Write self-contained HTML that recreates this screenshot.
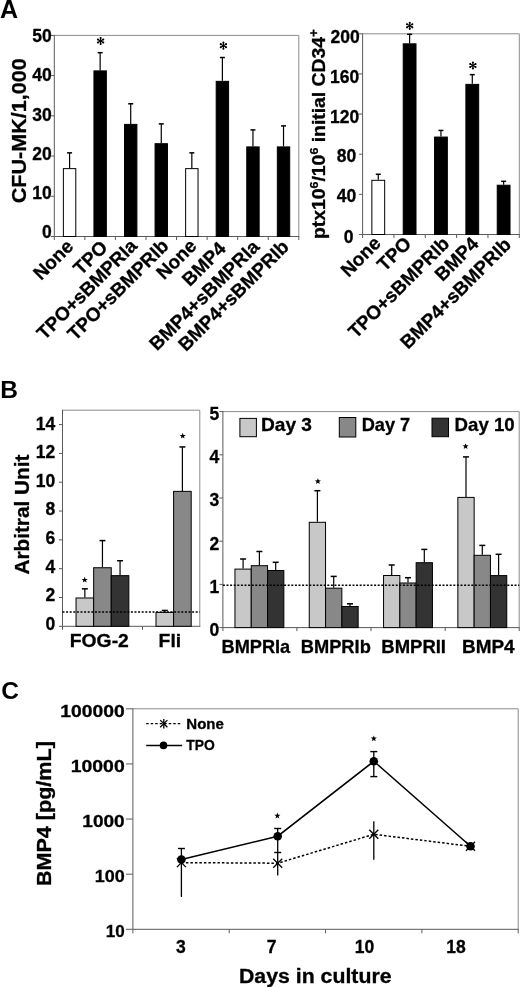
<!DOCTYPE html>
<html><head><meta charset="utf-8"><style>
html,body{margin:0;padding:0;background:#fff;width:520px;height:988px;overflow:hidden}
svg{display:block;filter:blur(0.4px)}
text{stroke:#000;stroke-width:0.3px}
</style></head><body>
<svg width="520" height="988" viewBox="0 0 520 988" font-family="Liberation Sans, sans-serif" font-weight="bold" fill="#000">
<text x="-0.1" y="17.8" font-size="25" text-anchor="start" style="stroke-width:0">A</text>
<line x1="54.3" y1="35.4" x2="298.8" y2="35.4" stroke="#8c8c8c" stroke-width="1"/>
<line x1="298.8" y1="35.4" x2="298.8" y2="236.5" stroke="#8c8c8c" stroke-width="1"/>
<line x1="54.3" y1="34.9" x2="54.3" y2="236.5" stroke="#5a5a5a" stroke-width="1"/>
<line x1="54.3" y1="236.5" x2="299.3" y2="236.5" stroke="#5a5a5a" stroke-width="1"/>
<line x1="50.8" y1="236.5" x2="54.3" y2="236.5" stroke="#5a5a5a" stroke-width="1"/>
<text x="51.8" y="237.7" font-size="17.5" text-anchor="end">0</text>
<line x1="50.8" y1="196.28" x2="54.3" y2="196.28" stroke="#5a5a5a" stroke-width="1"/>
<text x="51.8" y="198.9" font-size="17.5" text-anchor="end">10</text>
<line x1="50.8" y1="156.06" x2="54.3" y2="156.06" stroke="#5a5a5a" stroke-width="1"/>
<text x="51.8" y="159.5" font-size="17.5" text-anchor="end">20</text>
<line x1="50.8" y1="115.83999999999999" x2="54.3" y2="115.83999999999999" stroke="#5a5a5a" stroke-width="1"/>
<text x="51.8" y="121.2" font-size="17.5" text-anchor="end">30</text>
<line x1="50.8" y1="75.62" x2="54.3" y2="75.62" stroke="#5a5a5a" stroke-width="1"/>
<text x="51.8" y="81.0" font-size="17.5" text-anchor="end">40</text>
<line x1="50.8" y1="35.39999999999998" x2="54.3" y2="35.39999999999998" stroke="#5a5a5a" stroke-width="1"/>
<text x="51.8" y="41.8" font-size="17.5" text-anchor="end">50</text>
<line x1="54.3" y1="236.5" x2="54.3" y2="240.0" stroke="#5a5a5a" stroke-width="1"/>
<line x1="84.8625" y1="236.5" x2="84.8625" y2="240.0" stroke="#5a5a5a" stroke-width="1"/>
<line x1="115.425" y1="236.5" x2="115.425" y2="240.0" stroke="#5a5a5a" stroke-width="1"/>
<line x1="145.9875" y1="236.5" x2="145.9875" y2="240.0" stroke="#5a5a5a" stroke-width="1"/>
<line x1="176.55" y1="236.5" x2="176.55" y2="240.0" stroke="#5a5a5a" stroke-width="1"/>
<line x1="207.1125" y1="236.5" x2="207.1125" y2="240.0" stroke="#5a5a5a" stroke-width="1"/>
<line x1="237.675" y1="236.5" x2="237.675" y2="240.0" stroke="#5a5a5a" stroke-width="1"/>
<line x1="268.2375" y1="236.5" x2="268.2375" y2="240.0" stroke="#5a5a5a" stroke-width="1"/>
<line x1="298.8" y1="236.5" x2="298.8" y2="240.0" stroke="#5a5a5a" stroke-width="1"/>
<line x1="69.58125" y1="168.12599999999998" x2="69.58125" y2="152.8424" stroke="#000" stroke-width="1.2"/>
<line x1="67.08125" y1="152.8424" x2="72.08125" y2="152.8424" stroke="#000" stroke-width="1.5"/>
<rect x="63.381249999999994" y="168.62599999999998" width="12.4" height="67.87400000000001" fill="#fff" stroke="#000" stroke-width="1"/>
<line x1="100.14375" y1="70.3914" x2="100.14375" y2="52.69459999999998" stroke="#000" stroke-width="1.2"/>
<line x1="97.64375" y1="52.69459999999998" x2="102.64375" y2="52.69459999999998" stroke="#000" stroke-width="1.5"/>
<rect x="93.94375" y="70.8914" width="12.4" height="165.6086" fill="#000" stroke="#000" stroke-width="1"/>
<line x1="130.70625" y1="123.88399999999999" x2="130.70625" y2="103.774" stroke="#000" stroke-width="1.2"/>
<line x1="128.20625" y1="103.774" x2="133.20625" y2="103.774" stroke="#000" stroke-width="1.5"/>
<rect x="124.50625000000001" y="124.38399999999999" width="12.4" height="112.11600000000001" fill="#000" stroke="#000" stroke-width="1"/>
<line x1="161.26875" y1="143.18959999999998" x2="161.26875" y2="123.88399999999999" stroke="#000" stroke-width="1.2"/>
<line x1="158.76875" y1="123.88399999999999" x2="163.76875" y2="123.88399999999999" stroke="#000" stroke-width="1.5"/>
<rect x="155.06875000000002" y="143.68959999999998" width="12.4" height="92.8104" fill="#000" stroke="#000" stroke-width="1"/>
<line x1="191.83125" y1="168.12599999999998" x2="191.83125" y2="152.8424" stroke="#000" stroke-width="1.2"/>
<line x1="189.33125" y1="152.8424" x2="194.33125" y2="152.8424" stroke="#000" stroke-width="1.5"/>
<rect x="185.63125000000002" y="168.62599999999998" width="12.4" height="67.87400000000001" fill="#fff" stroke="#000" stroke-width="1"/>
<line x1="222.39375" y1="80.84859999999998" x2="222.39375" y2="57.52099999999999" stroke="#000" stroke-width="1.2"/>
<line x1="219.89375" y1="57.52099999999999" x2="224.89375" y2="57.52099999999999" stroke="#000" stroke-width="1.5"/>
<rect x="216.19375000000002" y="81.34859999999998" width="12.4" height="155.15140000000002" fill="#000" stroke="#000" stroke-width="1"/>
<line x1="252.95625" y1="146.4072" x2="252.95625" y2="129.91699999999997" stroke="#000" stroke-width="1.2"/>
<line x1="250.45625" y1="129.91699999999997" x2="255.45625" y2="129.91699999999997" stroke="#000" stroke-width="1.5"/>
<rect x="246.75625000000002" y="146.9072" width="12.4" height="89.5928" fill="#000" stroke="#000" stroke-width="1"/>
<line x1="283.51875" y1="146.4072" x2="283.51875" y2="125.895" stroke="#000" stroke-width="1.2"/>
<line x1="281.01875" y1="125.895" x2="286.01875" y2="125.895" stroke="#000" stroke-width="1.5"/>
<rect x="277.31875" y="146.9072" width="12.4" height="89.5928" fill="#000" stroke="#000" stroke-width="1"/>
<line x1="100.60" y1="37.40" x2="100.60" y2="44.60" stroke="#000" stroke-width="1.2"/>
<circle cx="100.60" cy="37.94" r="1.05" fill="#000"/>
<circle cx="100.60" cy="44.06" r="1.05" fill="#000"/>
<line x1="97.48" y1="39.20" x2="103.72" y2="42.80" stroke="#000" stroke-width="1.2"/>
<circle cx="97.95" cy="39.47" r="1.05" fill="#000"/>
<circle cx="103.25" cy="42.53" r="1.05" fill="#000"/>
<line x1="103.72" y1="39.20" x2="97.48" y2="42.80" stroke="#000" stroke-width="1.2"/>
<circle cx="103.25" cy="39.47" r="1.05" fill="#000"/>
<circle cx="97.95" cy="42.53" r="1.05" fill="#000"/>
<line x1="223.40" y1="42.10" x2="223.40" y2="49.30" stroke="#000" stroke-width="1.2"/>
<circle cx="223.40" cy="42.64" r="1.05" fill="#000"/>
<circle cx="223.40" cy="48.76" r="1.05" fill="#000"/>
<line x1="220.28" y1="43.90" x2="226.52" y2="47.50" stroke="#000" stroke-width="1.2"/>
<circle cx="220.75" cy="44.17" r="1.05" fill="#000"/>
<circle cx="226.05" cy="47.23" r="1.05" fill="#000"/>
<line x1="226.52" y1="43.90" x2="220.28" y2="47.50" stroke="#000" stroke-width="1.2"/>
<circle cx="226.05" cy="44.17" r="1.05" fill="#000"/>
<circle cx="220.75" cy="47.23" r="1.05" fill="#000"/>
<text x="25.9" y="130.8" font-size="20.5" text-anchor="middle" textLength="145" lengthAdjust="spacingAndGlyphs" transform="rotate(-90 25.9 130.8)">CFU-MK/1,000</text>
<text font-size="19" text-anchor="end" transform="translate(74.48 247.50) scale(1.0 1) rotate(-45)">None</text>
<text font-size="19" text-anchor="end" transform="translate(108.64 248.50) scale(1.0 1) rotate(-45)">TPO</text>
<text font-size="19" text-anchor="end" transform="translate(138.21 247.00) scale(1.0 1) rotate(-45)">TPO+sBMPRIa</text>
<text font-size="19" text-anchor="end" transform="translate(169.77 247.00) scale(1.0 1) rotate(-45)">TPO+sBMPRIb</text>
<text font-size="19" text-anchor="end" transform="translate(197.63 247.00) scale(1.0 1) rotate(-45)">None</text>
<text font-size="19" text-anchor="end" transform="translate(227.09 249.80) scale(1.0 1) rotate(-45)">BMP4</text>
<text font-size="19" text-anchor="end" transform="translate(260.46 248.00) scale(1.0 1) rotate(-45)">BMP4+sBMPRIa</text>
<text font-size="19" text-anchor="end" transform="translate(290.02 248.00) scale(1.0 1) rotate(-45)">BMP4+sBMPRIb</text>
<line x1="362.6" y1="33.8" x2="519.3" y2="33.8" stroke="#8c8c8c" stroke-width="1"/>
<line x1="519.3" y1="33.8" x2="519.3" y2="234.5" stroke="#8c8c8c" stroke-width="1"/>
<line x1="362.6" y1="33.3" x2="362.6" y2="234.5" stroke="#5a5a5a" stroke-width="1"/>
<line x1="362.6" y1="234.5" x2="519.8" y2="234.5" stroke="#5a5a5a" stroke-width="1"/>
<line x1="359.1" y1="234.5" x2="362.6" y2="234.5" stroke="#5a5a5a" stroke-width="1"/>
<text x="353.5" y="242.5" font-size="17.5" text-anchor="end">0</text>
<line x1="359.1" y1="194.36" x2="362.6" y2="194.36" stroke="#5a5a5a" stroke-width="1"/>
<text x="356.3" y="202.2" font-size="17.5" text-anchor="end">40</text>
<line x1="359.1" y1="154.22000000000003" x2="362.6" y2="154.22000000000003" stroke="#5a5a5a" stroke-width="1"/>
<text x="356.3" y="162.4" font-size="17.5" text-anchor="end">80</text>
<line x1="359.1" y1="114.08000000000001" x2="362.6" y2="114.08000000000001" stroke="#5a5a5a" stroke-width="1"/>
<text x="359.2" y="122.6" font-size="17.5" text-anchor="end">120</text>
<line x1="359.1" y1="73.94000000000003" x2="362.6" y2="73.94000000000003" stroke="#5a5a5a" stroke-width="1"/>
<text x="359.2" y="82.5" font-size="17.5" text-anchor="end">160</text>
<line x1="359.1" y1="33.80000000000004" x2="362.6" y2="33.80000000000004" stroke="#5a5a5a" stroke-width="1"/>
<text x="359.7" y="42.7" font-size="17.5" text-anchor="end">200</text>
<line x1="362.6" y1="234.5" x2="362.6" y2="238.0" stroke="#5a5a5a" stroke-width="1"/>
<line x1="393.94" y1="234.5" x2="393.94" y2="238.0" stroke="#5a5a5a" stroke-width="1"/>
<line x1="425.28" y1="234.5" x2="425.28" y2="238.0" stroke="#5a5a5a" stroke-width="1"/>
<line x1="456.62" y1="234.5" x2="456.62" y2="238.0" stroke="#5a5a5a" stroke-width="1"/>
<line x1="487.96" y1="234.5" x2="487.96" y2="238.0" stroke="#5a5a5a" stroke-width="1"/>
<line x1="519.3" y1="234.5" x2="519.3" y2="238.0" stroke="#5a5a5a" stroke-width="1"/>
<line x1="378.27000000000004" y1="179.80925000000002" x2="378.27000000000004" y2="174.29000000000002" stroke="#000" stroke-width="1.2"/>
<line x1="375.77000000000004" y1="174.29000000000002" x2="380.77000000000004" y2="174.29000000000002" stroke="#000" stroke-width="1.5"/>
<rect x="371.87000000000006" y="180.30925000000002" width="12.8" height="54.190749999999994" fill="#fff" stroke="#000" stroke-width="1"/>
<line x1="409.61" y1="43.33325000000002" x2="409.61" y2="34.30175000000003" stroke="#000" stroke-width="1.2"/>
<line x1="407.11" y1="34.30175000000003" x2="412.11" y2="34.30175000000003" stroke="#000" stroke-width="1.5"/>
<rect x="403.21000000000004" y="43.83325000000002" width="12.8" height="190.66674999999998" fill="#000" stroke="#000" stroke-width="1"/>
<line x1="440.95" y1="136.5584" x2="440.95" y2="130.43705" stroke="#000" stroke-width="1.2"/>
<line x1="438.45" y1="130.43705" x2="443.45" y2="130.43705" stroke="#000" stroke-width="1.5"/>
<rect x="434.55" y="137.0584" width="12.8" height="97.44159999999998" fill="#000" stroke="#000" stroke-width="1"/>
<line x1="472.28999999999996" y1="83.87465000000003" x2="472.28999999999996" y2="74.64245000000003" stroke="#000" stroke-width="1.2"/>
<line x1="469.78999999999996" y1="74.64245000000003" x2="474.78999999999996" y2="74.64245000000003" stroke="#000" stroke-width="1.5"/>
<rect x="465.89" y="84.37465000000003" width="12.8" height="150.12534999999997" fill="#000" stroke="#000" stroke-width="1"/>
<line x1="503.63" y1="184.7264" x2="503.63" y2="181.3145" stroke="#000" stroke-width="1.2"/>
<line x1="501.13" y1="181.3145" x2="506.13" y2="181.3145" stroke="#000" stroke-width="1.5"/>
<rect x="497.23" y="185.2264" width="12.8" height="49.273599999999995" fill="#000" stroke="#000" stroke-width="1"/>
<line x1="409.70" y1="22.20" x2="409.70" y2="29.40" stroke="#000" stroke-width="1.2"/>
<circle cx="409.70" cy="22.74" r="1.05" fill="#000"/>
<circle cx="409.70" cy="28.86" r="1.05" fill="#000"/>
<line x1="406.58" y1="24.00" x2="412.82" y2="27.60" stroke="#000" stroke-width="1.2"/>
<circle cx="407.05" cy="24.27" r="1.05" fill="#000"/>
<circle cx="412.35" cy="27.33" r="1.05" fill="#000"/>
<line x1="412.82" y1="24.00" x2="406.58" y2="27.60" stroke="#000" stroke-width="1.2"/>
<circle cx="412.35" cy="24.27" r="1.05" fill="#000"/>
<circle cx="407.05" cy="27.33" r="1.05" fill="#000"/>
<line x1="472.90" y1="61.90" x2="472.90" y2="69.10" stroke="#000" stroke-width="1.2"/>
<circle cx="472.90" cy="62.44" r="1.05" fill="#000"/>
<circle cx="472.90" cy="68.56" r="1.05" fill="#000"/>
<line x1="469.78" y1="63.70" x2="476.02" y2="67.30" stroke="#000" stroke-width="1.2"/>
<circle cx="470.25" cy="63.97" r="1.05" fill="#000"/>
<circle cx="475.55" cy="67.03" r="1.05" fill="#000"/>
<line x1="476.02" y1="63.70" x2="469.78" y2="67.30" stroke="#000" stroke-width="1.2"/>
<circle cx="475.55" cy="63.97" r="1.05" fill="#000"/>
<circle cx="470.25" cy="67.03" r="1.05" fill="#000"/>
<text x="325" y="134" font-size="18" text-anchor="middle" transform="rotate(-90 325 134)" textLength="210" lengthAdjust="spacingAndGlyphs">ptx10<tspan font-size="11.5" dy="-7.5">6</tspan><tspan dy="7.5">/10</tspan><tspan font-size="11.5" dy="-7.5">6</tspan><tspan dy="7.5"> initial CD34</tspan><tspan font-size="12.5" dy="-7.5">+</tspan></text>
<text font-size="19" text-anchor="end" transform="translate(381.97 244.30) scale(1.0 1) rotate(-45)">None</text>
<text font-size="19" text-anchor="end" transform="translate(412.41 244.70) scale(1.0 1) rotate(-45)">TPO</text>
<text font-size="19" text-anchor="end" transform="translate(450.35 244.90) scale(1.0 1) rotate(-45)">TPO+sBMPRIb</text>
<text font-size="19" text-anchor="end" transform="translate(479.79 244.90) scale(1.0 1) rotate(-45)">BMP4</text>
<text font-size="19" text-anchor="end" transform="translate(512.13 245.90) scale(1.0 1) rotate(-45)">BMP4+sBMPRIb</text>
<text x="0.3" y="397.5" font-size="24.5" text-anchor="start" style="stroke-width:0">B</text>
<line x1="62.5" y1="410.2" x2="199.8" y2="410.2" stroke="#8c8c8c" stroke-width="1"/>
<line x1="199.8" y1="410.2" x2="199.8" y2="626.3" stroke="#8c8c8c" stroke-width="1"/>
<line x1="62.5" y1="409.7" x2="62.5" y2="626.3" stroke="#5a5a5a" stroke-width="1"/>
<line x1="62.5" y1="626.3" x2="200.3" y2="626.3" stroke="#5a5a5a" stroke-width="1"/>
<line x1="59.0" y1="626.3" x2="62.5" y2="626.3" stroke="#5a5a5a" stroke-width="1"/>
<text x="55.3" y="629.8" font-size="17.5" text-anchor="end">0</text>
<line x1="59.0" y1="597.4866666666667" x2="62.5" y2="597.4866666666667" stroke="#5a5a5a" stroke-width="1"/>
<text x="55.3" y="601.1999999999999" font-size="17.5" text-anchor="end">2</text>
<line x1="59.0" y1="568.6733333333333" x2="62.5" y2="568.6733333333333" stroke="#5a5a5a" stroke-width="1"/>
<text x="55.3" y="572.5999999999999" font-size="17.5" text-anchor="end">4</text>
<line x1="59.0" y1="539.86" x2="62.5" y2="539.86" stroke="#5a5a5a" stroke-width="1"/>
<text x="55.3" y="544.0" font-size="17.5" text-anchor="end">6</text>
<line x1="59.0" y1="511.0466666666666" x2="62.5" y2="511.0466666666666" stroke="#5a5a5a" stroke-width="1"/>
<text x="55.3" y="515.4" font-size="17.5" text-anchor="end">8</text>
<line x1="59.0" y1="482.23333333333335" x2="62.5" y2="482.23333333333335" stroke="#5a5a5a" stroke-width="1"/>
<text x="55.3" y="486.79999999999995" font-size="17.5" text-anchor="end">10</text>
<line x1="59.0" y1="453.41999999999996" x2="62.5" y2="453.41999999999996" stroke="#5a5a5a" stroke-width="1"/>
<text x="55.3" y="458.19999999999993" font-size="17.5" text-anchor="end">12</text>
<line x1="59.0" y1="424.6066666666667" x2="62.5" y2="424.6066666666667" stroke="#5a5a5a" stroke-width="1"/>
<text x="55.3" y="429.5999999999999" font-size="17.5" text-anchor="end">14</text>
<line x1="62.5" y1="626.3" x2="62.5" y2="629.8" stroke="#5a5a5a" stroke-width="1"/>
<line x1="142.5" y1="626.3" x2="142.5" y2="629.8" stroke="#5a5a5a" stroke-width="1"/>
<line x1="84.85" y1="597.4866666666667" x2="84.85" y2="588.8426666666667" stroke="#000" stroke-width="1.2"/>
<line x1="81.85" y1="588.8426666666667" x2="87.85" y2="588.8426666666667" stroke="#000" stroke-width="1.5"/>
<line x1="102.45" y1="567.2326666666667" x2="102.45" y2="540.5803333333333" stroke="#000" stroke-width="1.2"/>
<line x1="99.45" y1="540.5803333333333" x2="105.45" y2="540.5803333333333" stroke="#000" stroke-width="1.5"/>
<line x1="120.05" y1="575.1563333333334" x2="120.05" y2="560.7496666666666" stroke="#000" stroke-width="1.2"/>
<line x1="117.05" y1="560.7496666666666" x2="123.05" y2="560.7496666666666" stroke="#000" stroke-width="1.5"/>
<rect x="76.05" y="597.9866666666667" width="17.6" height="28.31333333333333" fill="#c8c8c8" stroke="#000" stroke-width="1"/>
<rect x="93.65" y="567.7326666666667" width="17.6" height="58.567333333333316" fill="#888888" stroke="#000" stroke-width="1"/>
<rect x="111.25" y="575.6563333333334" width="17.6" height="50.643666666666654" fill="#333333" stroke="#000" stroke-width="1"/>
<line x1="164.8" y1="611.8933333333333" x2="164.8" y2="610.4526666666666" stroke="#000" stroke-width="1.2"/>
<line x1="161.8" y1="610.4526666666666" x2="167.8" y2="610.4526666666666" stroke="#000" stroke-width="1.5"/>
<line x1="182.4" y1="490.8773333333333" x2="182.4" y2="446.937" stroke="#000" stroke-width="1.2"/>
<line x1="179.4" y1="446.937" x2="185.4" y2="446.937" stroke="#000" stroke-width="1.5"/>
<rect x="156.0" y="612.3933333333333" width="17.6" height="13.906666666666665" fill="#c8c8c8" stroke="#000" stroke-width="1"/>
<rect x="173.6" y="491.3773333333333" width="17.6" height="134.92266666666666" fill="#888888" stroke="#000" stroke-width="1"/>
<line x1="62.5" y1="611.8933333333333" x2="199.8" y2="611.8933333333333" stroke="#000" stroke-width="1.5" stroke-dasharray="2,1.6"/>
<polygon points="84.70,576.80 85.49,578.91 87.74,579.01 85.98,580.42 86.58,582.59 84.70,581.35 82.82,582.59 83.42,580.42 81.66,579.01 83.91,578.91" fill="#000"/>
<polygon points="182.70,432.80 183.49,434.91 185.74,435.01 183.98,436.42 184.58,438.59 182.70,437.35 180.82,438.59 181.42,436.42 179.66,435.01 181.91,434.91" fill="#000"/>
<text x="29" y="514.6" font-size="20.5" text-anchor="middle" textLength="120" lengthAdjust="spacingAndGlyphs" transform="rotate(-90 29 514.6)">Arbitral Unit</text>
<text x="69.8" y="647.3" font-size="18.5" text-anchor="start" textLength="59" lengthAdjust="spacingAndGlyphs">FOG-2</text>
<text x="158.6" y="647.3" font-size="18.5" text-anchor="start" textLength="22.6" lengthAdjust="spacingAndGlyphs">Fli</text>
<line x1="222.9" y1="411.6" x2="519.2" y2="411.6" stroke="#8c8c8c" stroke-width="1"/>
<line x1="519.2" y1="411.6" x2="519.2" y2="627.6" stroke="#8c8c8c" stroke-width="1"/>
<line x1="222.9" y1="411.1" x2="222.9" y2="627.6" stroke="#5a5a5a" stroke-width="1"/>
<line x1="222.9" y1="627.6" x2="519.7" y2="627.6" stroke="#5a5a5a" stroke-width="1"/>
<line x1="219.4" y1="627.6" x2="222.9" y2="627.6" stroke="#5a5a5a" stroke-width="1"/>
<text x="219.3" y="635.9" font-size="17.5" text-anchor="end">0</text>
<line x1="219.4" y1="584.4" x2="222.9" y2="584.4" stroke="#5a5a5a" stroke-width="1"/>
<text x="219.3" y="592.6999999999999" font-size="17.5" text-anchor="end">1</text>
<line x1="219.4" y1="541.2" x2="222.9" y2="541.2" stroke="#5a5a5a" stroke-width="1"/>
<text x="219.3" y="549.5" font-size="17.5" text-anchor="end">2</text>
<line x1="219.4" y1="498.0" x2="222.9" y2="498.0" stroke="#5a5a5a" stroke-width="1"/>
<text x="219.3" y="506.3" font-size="17.5" text-anchor="end">3</text>
<line x1="219.4" y1="454.8" x2="222.9" y2="454.8" stroke="#5a5a5a" stroke-width="1"/>
<text x="219.3" y="463.1" font-size="17.5" text-anchor="end">4</text>
<line x1="219.4" y1="411.6" x2="222.9" y2="411.6" stroke="#5a5a5a" stroke-width="1"/>
<text x="219.3" y="419.90000000000003" font-size="17.5" text-anchor="end">5</text>
<line x1="222.9" y1="627.6" x2="222.9" y2="631.1" stroke="#5a5a5a" stroke-width="1"/>
<line x1="296.9" y1="627.6" x2="296.9" y2="631.1" stroke="#5a5a5a" stroke-width="1"/>
<line x1="371.0" y1="627.6" x2="371.0" y2="631.1" stroke="#5a5a5a" stroke-width="1"/>
<line x1="445.2" y1="627.6" x2="445.2" y2="631.1" stroke="#5a5a5a" stroke-width="1"/>
<line x1="519.2" y1="627.6" x2="519.2" y2="631.1" stroke="#5a5a5a" stroke-width="1"/>
<line x1="243.1" y1="568.6" x2="243.1" y2="559.0" stroke="#000" stroke-width="1.2"/>
<line x1="240.1" y1="559.0" x2="246.1" y2="559.0" stroke="#000" stroke-width="1.5"/>
<line x1="259.4" y1="565.2" x2="259.4" y2="551.5" stroke="#000" stroke-width="1.2"/>
<line x1="256.4" y1="551.5" x2="262.4" y2="551.5" stroke="#000" stroke-width="1.5"/>
<line x1="275.7" y1="570.0" x2="275.7" y2="562.3" stroke="#000" stroke-width="1.2"/>
<line x1="272.7" y1="562.3" x2="278.7" y2="562.3" stroke="#000" stroke-width="1.5"/>
<rect x="234.95" y="569.1" width="16.3" height="58.5" fill="#c8c8c8" stroke="#000" stroke-width="1"/>
<rect x="251.25" y="565.7" width="16.3" height="61.89999999999998" fill="#888888" stroke="#000" stroke-width="1"/>
<rect x="267.55" y="570.5" width="16.3" height="57.10000000000002" fill="#333333" stroke="#000" stroke-width="1"/>
<line x1="317.4" y1="521.8" x2="317.4" y2="490.7" stroke="#000" stroke-width="1.2"/>
<line x1="314.4" y1="490.7" x2="320.4" y2="490.7" stroke="#000" stroke-width="1.5"/>
<line x1="333.7" y1="587.7" x2="333.7" y2="576.4" stroke="#000" stroke-width="1.2"/>
<line x1="330.7" y1="576.4" x2="336.7" y2="576.4" stroke="#000" stroke-width="1.5"/>
<line x1="350.0" y1="606.0" x2="350.0" y2="603.8" stroke="#000" stroke-width="1.2"/>
<line x1="347.0" y1="603.8" x2="353.0" y2="603.8" stroke="#000" stroke-width="1.5"/>
<rect x="309.25" y="522.3" width="16.3" height="105.30000000000007" fill="#c8c8c8" stroke="#000" stroke-width="1"/>
<rect x="325.55" y="588.2" width="16.3" height="39.39999999999998" fill="#888888" stroke="#000" stroke-width="1"/>
<rect x="341.85" y="606.5" width="16.3" height="21.100000000000023" fill="#333333" stroke="#000" stroke-width="1"/>
<line x1="391.7" y1="575.0" x2="391.7" y2="565.0" stroke="#000" stroke-width="1.2"/>
<line x1="388.7" y1="565.0" x2="394.7" y2="565.0" stroke="#000" stroke-width="1.5"/>
<line x1="408.0" y1="582.5" x2="408.0" y2="577.7" stroke="#000" stroke-width="1.2"/>
<line x1="405.0" y1="577.7" x2="411.0" y2="577.7" stroke="#000" stroke-width="1.5"/>
<line x1="424.3" y1="562.2" x2="424.3" y2="549.4" stroke="#000" stroke-width="1.2"/>
<line x1="421.3" y1="549.4" x2="427.3" y2="549.4" stroke="#000" stroke-width="1.5"/>
<rect x="383.55" y="575.5" width="16.3" height="52.10000000000002" fill="#c8c8c8" stroke="#000" stroke-width="1"/>
<rect x="399.85" y="583.0" width="16.3" height="44.60000000000002" fill="#888888" stroke="#000" stroke-width="1"/>
<rect x="416.15000000000003" y="562.7" width="16.3" height="64.89999999999998" fill="#333333" stroke="#000" stroke-width="1"/>
<line x1="465.99999999999994" y1="496.9" x2="465.99999999999994" y2="456.9" stroke="#000" stroke-width="1.2"/>
<line x1="462.99999999999994" y1="456.9" x2="468.99999999999994" y2="456.9" stroke="#000" stroke-width="1.5"/>
<line x1="482.29999999999995" y1="554.8" x2="482.29999999999995" y2="545.4" stroke="#000" stroke-width="1.2"/>
<line x1="479.29999999999995" y1="545.4" x2="485.29999999999995" y2="545.4" stroke="#000" stroke-width="1.5"/>
<line x1="498.59999999999997" y1="575.1" x2="498.59999999999997" y2="554.3" stroke="#000" stroke-width="1.2"/>
<line x1="495.59999999999997" y1="554.3" x2="501.59999999999997" y2="554.3" stroke="#000" stroke-width="1.5"/>
<rect x="457.84999999999997" y="497.4" width="16.3" height="130.20000000000005" fill="#c8c8c8" stroke="#000" stroke-width="1"/>
<rect x="474.15" y="555.3" width="16.3" height="72.30000000000007" fill="#888888" stroke="#000" stroke-width="1"/>
<rect x="490.45" y="575.6" width="16.3" height="52.0" fill="#333333" stroke="#000" stroke-width="1"/>
<line x1="222.9" y1="585.3" x2="519.2" y2="585.3" stroke="#000" stroke-width="1.5" stroke-dasharray="2,1.6"/>
<polygon points="317.90,478.20 318.69,480.31 320.94,480.41 319.18,481.82 319.78,483.99 317.90,482.75 316.02,483.99 316.62,481.82 314.86,480.41 317.11,480.31" fill="#000"/>
<polygon points="465.60,443.20 466.39,445.31 468.64,445.41 466.88,446.82 467.48,448.99 465.60,447.75 463.72,448.99 464.32,446.82 462.56,445.41 464.81,445.31" fill="#000"/>
<rect x="239.9" y="418.4" width="16.5" height="18.3" fill="#c8c8c8" stroke="#000" stroke-width="1"/>
<rect x="339.3" y="417.5" width="16.5" height="19.5" fill="#888888" stroke="#000" stroke-width="1"/>
<rect x="432" y="418.2" width="16.5" height="18.5" fill="#333333" stroke="#000" stroke-width="1"/>
<text x="261" y="431.3" font-size="18.5" text-anchor="start" textLength="51" lengthAdjust="spacingAndGlyphs">Day 3</text>
<text x="361.7" y="431.3" font-size="18.5" text-anchor="start" textLength="48.5" lengthAdjust="spacingAndGlyphs">Day 7</text>
<text x="454.6" y="431.3" font-size="18.5" text-anchor="start" textLength="60" lengthAdjust="spacingAndGlyphs">Day 10</text>
<text x="221.5" y="653.2" font-size="18.5" text-anchor="start" textLength="68.7" lengthAdjust="spacingAndGlyphs">BMPRIa</text>
<text x="300.8" y="653.2" font-size="18.5" text-anchor="start" textLength="70" lengthAdjust="spacingAndGlyphs">BMPRIb</text>
<text x="381.3" y="653.2" font-size="18.5" text-anchor="start" textLength="64.7" lengthAdjust="spacingAndGlyphs">BMPRII</text>
<text x="462" y="653.2" font-size="18.5" text-anchor="start" textLength="52.6" lengthAdjust="spacingAndGlyphs">BMP4</text>
<text x="1.3" y="698.7" font-size="24.5" text-anchor="start" style="stroke-width:0">C</text>
<line x1="132.9" y1="708.8" x2="518.2" y2="708.8" stroke="#8c8c8c" stroke-width="1"/>
<line x1="518.2" y1="708.8" x2="518.2" y2="929.3" stroke="#8c8c8c" stroke-width="1"/>
<line x1="132.9" y1="708.3" x2="132.9" y2="929.3" stroke="#5a5a5a" stroke-width="1"/>
<line x1="132.9" y1="929.3" x2="518.7" y2="929.3" stroke="#5a5a5a" stroke-width="1"/>
<line x1="125.9" y1="929.3" x2="132.9" y2="929.3" stroke="#5a5a5a" stroke-width="1"/>
<text x="124.7" y="937.4" font-size="17" text-anchor="end" textLength="19" lengthAdjust="spacingAndGlyphs">10</text>
<line x1="125.9" y1="874.175" x2="132.9" y2="874.175" stroke="#5a5a5a" stroke-width="1"/>
<text x="124.7" y="882.275" font-size="17" text-anchor="end" textLength="30" lengthAdjust="spacingAndGlyphs">100</text>
<line x1="125.9" y1="819.05" x2="132.9" y2="819.05" stroke="#5a5a5a" stroke-width="1"/>
<text x="124.7" y="827.15" font-size="17" text-anchor="end" textLength="42.4" lengthAdjust="spacingAndGlyphs">1000</text>
<line x1="125.9" y1="763.925" x2="132.9" y2="763.925" stroke="#5a5a5a" stroke-width="1"/>
<text x="124.7" y="772.025" font-size="17" text-anchor="end" textLength="54" lengthAdjust="spacingAndGlyphs">10000</text>
<line x1="125.9" y1="708.8" x2="132.9" y2="708.8" stroke="#5a5a5a" stroke-width="1"/>
<text x="124.7" y="716.9" font-size="17" text-anchor="end" textLength="64.5" lengthAdjust="spacingAndGlyphs">100000</text>
<line x1="132.9" y1="929.3" x2="132.9" y2="933.3" stroke="#5a5a5a" stroke-width="1"/>
<line x1="229.22500000000002" y1="929.3" x2="229.22500000000002" y2="933.3" stroke="#5a5a5a" stroke-width="1"/>
<line x1="325.55000000000007" y1="929.3" x2="325.55000000000007" y2="933.3" stroke="#5a5a5a" stroke-width="1"/>
<line x1="421.875" y1="929.3" x2="421.875" y2="933.3" stroke="#5a5a5a" stroke-width="1"/>
<line x1="518.2" y1="929.3" x2="518.2" y2="933.3" stroke="#5a5a5a" stroke-width="1"/>
<text x="180.8" y="952.8" font-size="17.5" text-anchor="middle">3</text>
<text x="271.5" y="952.8" font-size="17.5" text-anchor="middle">7</text>
<text x="364.6" y="952.8" font-size="17.5" text-anchor="middle">10</text>
<text x="456" y="952.8" font-size="17.5" text-anchor="middle">18</text>
<text x="239" y="982.7" font-size="19.5" text-anchor="start" textLength="152.5" lengthAdjust="spacingAndGlyphs">Days in culture</text>
<text x="51.5" y="813.6" font-size="20" text-anchor="middle" textLength="145" lengthAdjust="spacingAndGlyphs" transform="rotate(-90 51.5 813.6)">BMP4 [pg/mL]</text>
<line x1="181.4" y1="848.5" x2="181.4" y2="897" stroke="#000" stroke-width="1.3"/>
<line x1="177.9" y1="848.5" x2="184.9" y2="848.5" stroke="#000" stroke-width="1.4"/>
<line x1="277.7" y1="828.5" x2="277.7" y2="875.5" stroke="#000" stroke-width="1.3"/>
<line x1="274.2" y1="828.5" x2="281.2" y2="828.5" stroke="#000" stroke-width="1.4"/>
<line x1="274.2" y1="852.5" x2="281.2" y2="852.5" stroke="#000" stroke-width="1.4"/>
<line x1="373.8" y1="751.6" x2="373.8" y2="776.6" stroke="#000" stroke-width="1.3"/>
<line x1="370.3" y1="751.6" x2="377.3" y2="751.6" stroke="#000" stroke-width="1.4"/>
<line x1="370.3" y1="776.6" x2="377.3" y2="776.6" stroke="#000" stroke-width="1.4"/>
<line x1="373.8" y1="821.3" x2="373.8" y2="859.8" stroke="#000" stroke-width="1.3"/>
<polyline points="181.4,862.6 277.7,863.2 373.8,834.3 470.5,846.3" fill="none" stroke="#000" stroke-width="1.5" stroke-dasharray="2.5,2"/>
<polyline points="181.4,859.5 277.7,836.2 373.8,761.3 470.5,846.3" fill="none" stroke="#000" stroke-width="1.5"/>
<line x1="176.9" y1="858.1" x2="185.9" y2="867.1" stroke="#000" stroke-width="1.3"/>
<line x1="176.9" y1="867.1" x2="185.9" y2="858.1" stroke="#000" stroke-width="1.3"/>
<line x1="273.2" y1="858.7" x2="282.2" y2="867.7" stroke="#000" stroke-width="1.3"/>
<line x1="273.2" y1="867.7" x2="282.2" y2="858.7" stroke="#000" stroke-width="1.3"/>
<line x1="369.3" y1="829.8" x2="378.3" y2="838.8" stroke="#000" stroke-width="1.3"/>
<line x1="369.3" y1="838.8" x2="378.3" y2="829.8" stroke="#000" stroke-width="1.3"/>
<line x1="466.0" y1="841.8" x2="475.0" y2="850.8" stroke="#000" stroke-width="1.3"/>
<line x1="466.0" y1="850.8" x2="475.0" y2="841.8" stroke="#000" stroke-width="1.3"/>
<circle cx="181.4" cy="859.5" r="4.3" fill="#000"/>
<circle cx="277.7" cy="836.2" r="4.3" fill="#000"/>
<circle cx="373.8" cy="761.3" r="4.3" fill="#000"/>
<circle cx="470.5" cy="846.3" r="4.3" fill="#000"/>
<polygon points="277.40,812.60 278.19,814.71 280.44,814.81 278.68,816.22 279.28,818.39 277.40,817.15 275.52,818.39 276.12,816.22 274.36,814.81 276.61,814.71" fill="#000"/>
<polygon points="373.80,735.40 374.59,737.51 376.84,737.61 375.08,739.02 375.68,741.19 373.80,739.95 371.92,741.19 372.52,739.02 370.76,737.61 373.01,737.51" fill="#000"/>
<line x1="146.2" y1="723.7" x2="182.1" y2="723.7" stroke="#000" stroke-width="1.3" stroke-dasharray="2.5,2"/>
<line x1="160.20000000000002" y1="720.1" x2="167.4" y2="727.3000000000001" stroke="#000" stroke-width="1.3"/>
<line x1="160.20000000000002" y1="727.3000000000001" x2="167.4" y2="720.1" stroke="#000" stroke-width="1.3"/>
<line x1="163.8" y1="719" x2="163.8" y2="728.4" stroke="#000" stroke-width="1.3"/>
<line x1="146.2" y1="745.4" x2="182.1" y2="745.4" stroke="#000" stroke-width="1.5"/>
<circle cx="163.5" cy="745.4" r="3.8" fill="#000"/>
<text x="186.3" y="728.9" font-size="14.5" text-anchor="start" textLength="37.5" lengthAdjust="spacingAndGlyphs">None</text>
<text x="186.3" y="750.4" font-size="14.5" text-anchor="start" textLength="28.5" lengthAdjust="spacingAndGlyphs">TPO</text>
</svg>
</body></html>
